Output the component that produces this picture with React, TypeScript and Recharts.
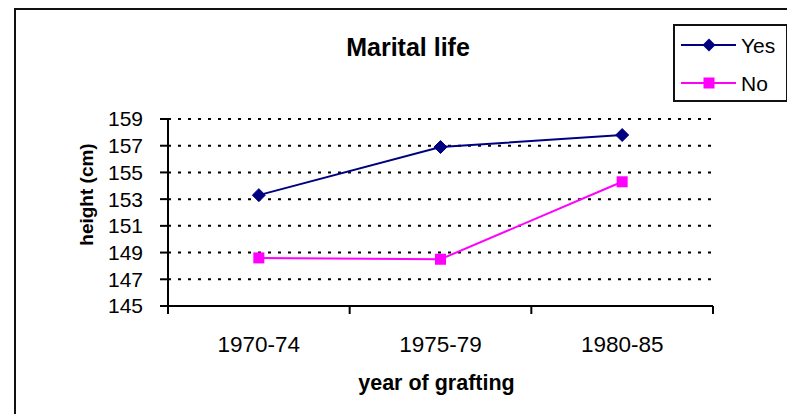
import React from 'react';
import { LineChart, Line, XAxis, YAxis, CartesianGrid, Legend } from 'recharts';

const categories = ['1970-74', '1975-79', '1980-85'];
const yesValues = [153.3, 156.9, 157.8];
const noValues = [148.6, 148.5, 154.3];
const yTicks = [145, 147, 149, 151, 153, 155, 157, 159];
const titleText = 'Marital life';
const xLabelText = 'year of grafting';
const yLabelText = 'height (cm)';

const data = categories.map((c, i) => ({ cat: c, Yes: yesValues[i], No: noValues[i] }));

const FONT = '"Liberation Sans", Arial, sans-serif';
const NAVY = '#000080';
const MAGENTA = '#FF00FF';
const X_TICK_SIZE = 8;
const X_TICK_MARGIN = 22;

const Diamond = (props: any) => {
  const { cx, cy, index } = props;
  if (cx == null || cy == null) return <g key={`d${index}`} />;
  const r = 6.5;
  return (
    <path
      key={`d${index}`}
      d={`M${cx},${cy - r}L${cx + r},${cy}L${cx},${cy + r}L${cx - r},${cy}Z`}
      fill={NAVY}
      stroke={NAVY}
    />
  );
};

const Square = (props: any) => {
  const { cx, cy, index } = props;
  if (cx == null || cy == null) return <g key={`s${index}`} />;
  const r = 5.5;
  return <rect key={`s${index}`} x={cx - r} y={cy - r} width={2 * r} height={2 * r} fill={MAGENTA} />;
};

// Category tick: label at band centre, tick marks at band boundaries (as in Excel)
const BandTick = (props: any) => {
  const { x, y, payload, index, visibleTicksCount } = props;
  const half = payload && payload.offset ? payload.offset : 0;
  const axisY = y - X_TICK_SIZE - X_TICK_MARGIN;
  const left = payload.coordinate - half;
  const right = payload.coordinate + half;
  return (
    <g>
      <line x1={left} x2={left} y1={axisY} y2={axisY + X_TICK_SIZE} stroke="#000" strokeWidth={2} />
      {index === visibleTicksCount - 1 && (
        <line x1={right} x2={right} y1={axisY} y2={axisY + X_TICK_SIZE} stroke="#000" strokeWidth={2} />
      )}
      <text x={x} y={y} dy="0.71em" textAnchor="middle" fontSize={22.5} fontFamily={FONT} fill="#000">
        {payload.value}
      </text>
    </g>
  );
};

const LegendContent = () => {
  const items = [
    { name: 'Yes', color: NAVY, shape: 'diamond' },
    { name: 'No', color: MAGENTA, shape: 'square' },
  ];
  return (
    <div
      style={{
        width: 111,
        height: 74,
        border: '2px solid #111',
        background: '#fff',
        boxSizing: 'content-box',
        fontFamily: FONT,
      }}
    >
      <svg width={111} height={74}>
        {items.map((it, i) => {
          const y = 19 + i * 38;
          return (
            <g key={it.name}>
              <line x1={6} x2={61} y1={y} y2={y} stroke={it.color} strokeWidth={2} />
              {it.shape === 'diamond' ? (
                <path d={`M34,${y - 6.5}L40.5,${y}L34,${y + 6.5}L27.5,${y}Z`} fill={it.color} />
              ) : (
                <rect x={28.5} y={y - 5.5} width={11} height={11} fill={it.color} />
              )}
              <text x={66} y={y} dominantBaseline="central" fontSize={21} fontFamily={FONT} fill="#000">
                {it.name}
              </text>
            </g>
          );
        })}
      </svg>
    </div>
  );
};

const YLabel = (props: any) => {
  const { viewBox } = props;
  const cx = viewBox.x + 86;
  const cy = viewBox.y + viewBox.height / 2 - 18;
  return (
    <text
      x={cx}
      y={cy}
      transform={`rotate(-90 ${cx} ${cy})`}
      textAnchor="middle"
      dominantBaseline="central"
      fontSize={19}
      fontWeight="bold"
      fontFamily={FONT}
      fill="#000"
    >
      {yLabelText}
    </text>
  );
};

const XLabel = (props: any) => {
  const { viewBox } = props;
  const cx = viewBox.x + viewBox.width / 2 - 4;
  const cy = viewBox.y + 84;
  return (
    <text x={cx} y={cy} textAnchor="middle" fontSize={21.5} fontWeight="bold" fontFamily={FONT} fill="#000">
      {xLabelText}
    </text>
  );
};

export default function App() {
  return (
    <div style={{ position: 'absolute', left: 0, top: 0, width: 787, height: 414, overflow: 'hidden', background: '#fff' }}>
      <div
        style={{
          position: 'absolute',
          left: 14,
          top: 8,
          width: 900,
          height: 600,
          border: '2px solid #111',
        }}
      />
      <div style={{ position: 'absolute', left: 0, top: 0 }}>
        <LineChart
          width={787}
          height={414}
          data={data}
          margin={{ top: 119, right: 74, bottom: 48, left: 0 }}
        >
          <CartesianGrid
            horizontal
            vertical={false}
            stroke="#000"
            strokeWidth={2}
            strokeDasharray="3 7"
          />
          <XAxis
            dataKey="cat"
            scale="band"
            height={60}
            interval={0}
            axisLine={{ stroke: '#000', strokeWidth: 2 }}
            tickLine={false}
            tickSize={X_TICK_SIZE}
            tickMargin={X_TICK_MARGIN}
            tick={<BandTick />}
            label={<XLabel />}
          />
          <YAxis
            width={168}
            domain={[145, 159]}
            ticks={yTicks}
            interval={0}
            tickSize={8}
            tickMargin={17}
            axisLine={{ stroke: '#000', strokeWidth: 2 }}
            tickLine={{ stroke: '#000', strokeWidth: 2 }}
            tick={{ fill: '#000', fontSize: 21, fontFamily: FONT }}
            label={<YLabel />}
          />
          <Legend
            layout="vertical"
            align="center"
            verticalAlign="middle"
            content={<LegendContent />}
            wrapperStyle={{ left: 673, top: 24, width: 115, height: 78 }}
          />
          <Line
            dataKey="Yes"
            stroke={NAVY}
            strokeWidth={2}
            dot={Diamond}
            activeDot={false}
            isAnimationActive={false}
          />
          <Line
            dataKey="No"
            stroke={MAGENTA}
            strokeWidth={2}
            dot={Square}
            activeDot={false}
            isAnimationActive={false}
          />
        </LineChart>
      </div>
      <svg style={{ position: 'absolute', left: 0, top: 0, pointerEvents: 'none' }} width={787} height={414}>
        <text x={408} y={56} textAnchor="middle" fontSize={25} fontWeight="bold" fontFamily={FONT} fill="#000">
          {titleText}
        </text>
      </svg>
    </div>
  );
}
